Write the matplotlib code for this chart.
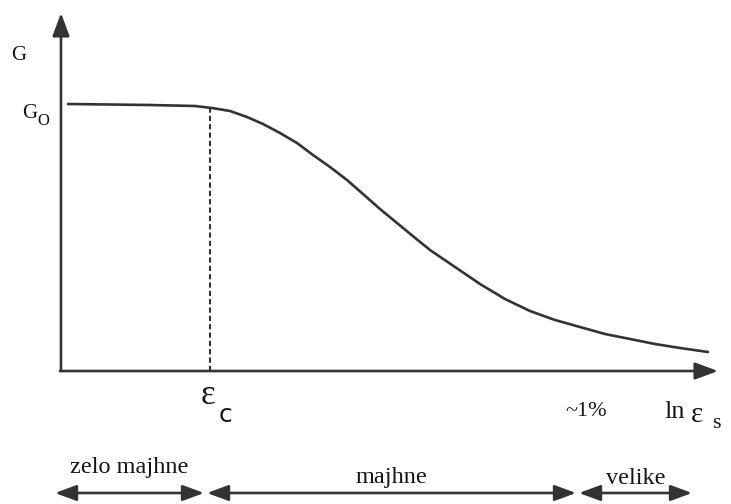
import matplotlib
matplotlib.use("Agg")
import matplotlib.pyplot as plt
from matplotlib.patches import FancyArrowPatch

plt.rcParams['font.family'] = ['Liberation Serif', 'DejaVu Serif']

# Degradation curve: log shear strain (horizontal) vs. shear modulus G (vertical)
ln_strain = [68, 150, 195, 212, 230, 247, 263, 280, 297, 313, 330, 347, 363, 380,
             397, 414, 430, 455, 480, 505, 530, 555, 580, 605, 630, 655, 680, 708]
shear_modulus = [267, 266, 265, 263, 260, 254, 247, 238, 228, 216, 204, 191, 177,
                 162, 148, 134, 121, 104, 87, 72, 60, 51, 44, 37, 32, 27, 23, 19]

G0 = 265
strain_c = 210

# strain ranges: (start, end, label)
range_labels = ["zelo majhne", "majhne", "velike"]
range_bounds = [(55, 204), (207, 576), (579, 692)]
label_y = [-96, -107, -107]

ink = "#333333"
txt = "#151515"

fig = plt.figure(figsize=(7.31, 5.04), dpi=100)
ax = fig.add_axes([0, 0, 1, 1])
ax.set_xlim(0, 731)
ax.set_ylim(-133, 371)
ax.axis("off")

axis_head = "-|>,head_length=14,head_width=5.2"
range_head = "<|-|>,head_length=13,head_width=4.8"

# axes with arrowheads
ax.add_patch(FancyArrowPatch((61, 0), (61, 358), arrowstyle=axis_head, color=ink,
                             lw=1.9, mutation_scale=1, shrinkA=0, shrinkB=0))
ax.add_patch(FancyArrowPatch((60, 0), (718, 0), arrowstyle=axis_head, color=ink,
                             lw=1.9, mutation_scale=1, shrinkA=0, shrinkB=0))

# curve
ax.plot(ln_strain, shear_modulus, color=ink, lw=1.9, solid_capstyle="round",
        solid_joinstyle="round")

# threshold strain marker
ax.plot([strain_c, strain_c], [0, G0 - 2], color=ink, lw=1.5, ls=(0, (2.5, 1.5)))

# labels
ax.text(11, 316, "G", fontsize=15, ha="left", va="center", color=txt)
ax.text(22, 258, "G", fontsize=15, ha="left", va="center", color=txt)
ax.text(37, 250, "O", fontsize=12, ha="left", va="center", color=txt)
ax.text(208, -25, "ε", fontsize=25, ha="center", va="center", color=txt)
ax.text(226, -44, "c", fontsize=18, ha="center", va="center", color=txt,
        family=['DejaVu Sans'])
ax.text(586, -40, "~1%", fontsize=16, ha="center", va="center", color=txt)
ax.text(675, -41, "ln", fontsize=19, ha="center", va="center", color=txt)
ax.text(697, -44, "ε", fontsize=21, ha="center", va="center", color=txt)
ax.text(716, -53, "s", fontsize=16, ha="center", va="center", color=txt)

for (x0, x1), lab, ly in zip(range_bounds, range_labels, label_y):
    ax.add_patch(FancyArrowPatch((x0, -122), (x1, -122), arrowstyle=range_head,
                                 color=ink, lw=1.9, mutation_scale=1,
                                 shrinkA=0, shrinkB=0))
    ax.text((x0 + x1) / 2, ly, lab, fontsize=17.5, ha="center", va="center",
            color=txt)

fig.savefig("out.png", dpi=100, facecolor="white")
